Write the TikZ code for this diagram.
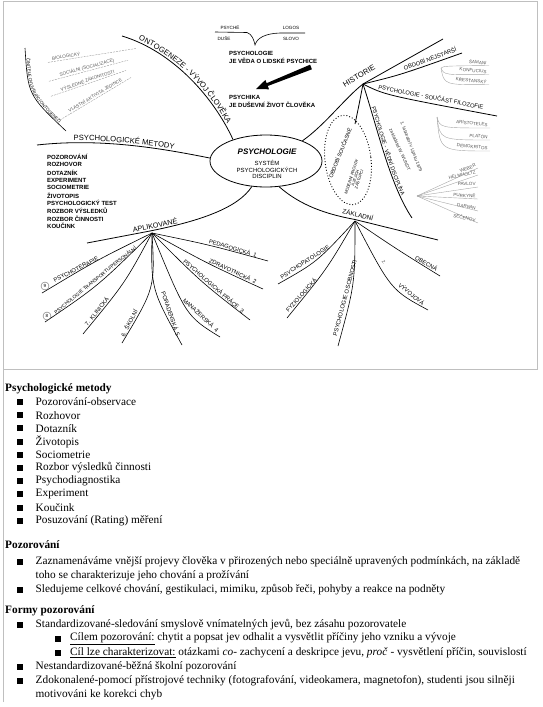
\documentclass[tikz,border=0pt]{standalone}
\usepackage{fontspec}
\setmainfont{Liberation Serif}
\newfontfamily\mmf{Liberation Sans}
\usetikzlibrary{shapes.geometric,decorations.text}
\newcommand\fsz[1]{\fontsize{#1}{#1}\selectfont}
\tikzset{
 framel/.style={draw=black!25, line width=0.8pt},
 br/.style={draw=black, line width=0.8pt},
 sbr/.style={draw=black, line width=0.6pt},
 gl/.style={draw=black!35, line width=0.4pt},
 gld/.style={draw=black!40, line width=0.4pt, dash pattern=on 2pt off 1pt},
 mlab/.style={inner sep=0.3pt, font=\mmf\fsz{5.8}},
 mtiny/.style={inner sep=0.2pt, font=\mmf\fsz{4.6}, text=black!65},
 mbig/.style={inner sep=0.3pt, font=\mmf\fsz{7.6}},
 mlst/.style={anchor=west, inner sep=0, font=\mmf\bfseries\fsz{6}},
 body/.style={anchor=west, inner sep=0, font=\fsz{11.3}},
 headl/.style={anchor=west, inner sep=0, font=\bfseries\fsz{11.3}},
 sq/.style={fill=black, inner sep=0, minimum size=6pt},
 circl/.style={circle, draw=black!60, inner sep=0.2pt, minimum size=8pt, font=\mmf\fsz{4.5}},
}
\newcommand\bitem[4]{\node[sq] (#1s) at (#2,#3) {}; \node[body] (#1) at (#2+15.5,#3) {#4};}
\newcommand\bitemb[4]{\node[sq] (#1s) at (#2,#3) {}; \node[body] (#1) at (#2+12,#3) {#4};}
\begin{document}
\begin{tikzpicture}[x=1pt,y=-1pt]
\useasboundingbox (0,0) rectangle (543,707);
% frame
\draw[framel] (3,702) -- (3,1) -- (537,1) -- (537,369) -- (3,369);

% ---------- top: psyche / logos
\node[mtiny, text=black] (psyche) at (230,28) {PSYCHÉ};
\node[mtiny, text=black] (duse) at (224,39) {DUŠE};
\node[mtiny, text=black] (logos) at (291,28) {LOGOS};
\node[mtiny, text=black] (slovo) at (291,39) {SLOVO};
\draw[sbr] (215,32) -- (247,32.5) .. controls (252,34) and (254,40) .. (255,45)
  .. controls (257,38) and (265,33.5) .. (280,33) -- (305,33);
\node[mlst] (pl1) at (229,53) {PSYCHOLOGIE};
\node[mlst] (pl2) at (229,61) {JE VĚDA O LIDSKÉ PSYCHICE};
\node[mlst] (pk1) at (229,97) {PSYCHIKA};
\node[mlst] (pk2) at (229,104.5) {JE DUŠEVNÍ ŽIVOT ČLOVĚKA};
\fill (310.1,64.7) -- (266.6,83.2) -- (265.4,79.9) -- (256,89) -- (269.0,89.3) -- (267.8,86.0) -- (311.9,69.3) -- cycle;

% ---------- core
\node[ellipse, draw, line width=0.8pt, minimum width=112pt, minimum height=52pt] (core) at (266,161) {};
\node[inner sep=0, font=\mmf\bfseries\itshape\fsz{8}] (c1) at (267,152) {PSYCHOLOGIE};
\node[inner sep=0, font=\mmf\fsz{6}] (c2) at (267,163) {SYSTÉM};
\node[inner sep=0, font=\mmf\fsz{6}] (c3) at (267,169.5) {PSYCHOLOGICKÝCH};
\node[inner sep=0, font=\mmf\fsz{6}] (c4) at (267,176) {DISCIPLIN};

% ---------- ontogeneze
\coordinate (oA) at (122,36);
\draw[br, postaction={decorate, decoration={text along path, text={|\mmf\fsz{7.6}|ONTOGENEZE - VÝVOJ ČLOVĚKA}, text align=center, raise=2pt}}]
  (oA) .. controls (175,52) and (215,100) .. (core.147);
\draw[sbr, postaction={decorate, decoration={text along path, text={|\mmf\fsz{4.3}|ČINITELE OVLIVŇUJÍCÍ ONTOGENEZI}, text align=center, raise=1pt}}]
  (25,48) .. controls (28,95) .. (66,131);
\draw[gld] (48,62.4) -- (136,48.5);
\node[mtiny, rotate=9] (o1) at (66,56) {BIOLOGICKÝ};
\draw[gld] (49,81.3) -- (128,60.2);
\node[mtiny, rotate=15] (o2) at (87,67.5) {SOCIÁLNÍ (SOCIALIZACE)};
\draw[gld] (51,96.3) -- (126,70.5);
\node[mtiny, rotate=19] (o3) at (87.5,80) {VÝSLEDNÉ ZÁKONITOSTI};
\draw[gld] (60,120) -- (131,77.5);
\node[mtiny, rotate=31] (o4) at (95,95) {VLASTNÍ AKTIVITA JEDINCE};

% ---------- metody
\draw[br, postaction={decorate, decoration={text along path, text={|\mmf\fsz{7.6}|PSYCHOLOGICKÉ METODY}, text align=center, raise=2pt}}]
  (37,145) .. controls (100,138) and (160,148) .. (core.177);
\node[mlst] (m1) at (47,157) {POZOROVÁNÍ};
\node[mlst] (m2) at (47,164.7) {ROZHOVOR};
\node[mlst] (m3) at (47,172.4) {DOTAZNÍK};
\node[mlst] (m4) at (47,180.1) {EXPERIMENT};
\node[mlst] (m5) at (47,187.8) {SOCIOMETRIE};
\node[mlst] (m6) at (47,195.5) {ŽIVOTOPIS};
\node[mlst] (m7) at (47,203.2) {PSYCHOLOGICKÝ TEST};
\node[mlst] (m8) at (47,210.9) {ROZBOR VÝSLEDKŮ};
\node[mlst] (m9) at (47,218.6) {ROZBOR ČINNOSTI};
\node[mlst] (m10) at (47,226.3) {KOUČINK};

% ---------- aplikované
\coordinate (Ah) at (152,233);
\draw[br] (87,243) -- (150,231) .. controls (200,221) and (238,208) .. (core.241);
\node[mbig, font=\mmf\fsz{7.2}, rotate=11] (apl) at (155,225) {APLIKOVANÉ};
\coordinate (a1) at (268,261);
\coordinate (a2) at (263,289);
\coordinate (a3) at (250,320);
\coordinate (a4) at (220,337);
\coordinate (a5) at (182,345);
\coordinate (a6) at (122,343);
\coordinate (a7) at (83,334);
\coordinate (a8) at (45,322);
\coordinate (a9) at (42,293);
\draw[sbr] (Ah) .. controls (210,245) .. (a1);
\draw[sbr] (Ah) .. controls (207.5,263.6) .. (a2);
\draw[sbr] (Ah) .. controls (201,282) .. (a3);
\draw[sbr] (Ah) .. controls (186,316) .. (a4);
\draw[sbr] (Ah) .. controls (151,289) .. (a5);
\draw[sbr] (Ah) .. controls (155,288) .. (a6);
\draw[sbr] (Ah) .. controls (125,283) .. (a7);
\draw[sbr] (Ah) .. controls (98,286) .. (a8);
\draw[sbr] (Ah) .. controls (97,260) .. (a9);
\node[mlab, rotate=-16] (t1) at (233,248) {PEDAGOGICKÁ\ \ 1};
\node[mlab, rotate=-25] (t2) at (233,271) {ZDRAVOTNICKÁ\ \ 2};
\node[mlab, rotate=-41] (t3) at (214,286) {PSYCHOLOGICKÁ PRÁCE\ \ 3};
\node[mlab, rotate=-43] (t4) at (201,315) {MANAŽERSKÁ\ \ 4};
\node[mlab, rotate=-71] (t5) at (171,314) {PORADENSKÁ\ \ 5};
\node[mlab, rotate=63] (t6) at (129,323) {6.\ \ ŠKOLNÍ};
\node[mlab, rotate=51] (t7) at (96.5,311.5) {7.\ \ KLINICKÁ};
\node[mlab, font=\mmf\fsz{4.9}, rotate=39] (t8) at (95,280) {PSYCHOLOGIE TRANSPORTU/PERSONÁLNÍ};
\node[mlab, rotate=27] (t9) at (76,269.5) {PSYCHOTERAPIE};
\node[circl] (n9) at (45,286) {9};
\node[circl] (n8) at (47,316) {8};

% ---------- základní
\coordinate (Zh) at (355,221);
\draw[br] (core.297) .. controls (300,205) and (325,214) .. (355,219.5) -- (438,240);
\node[mlab, font=\mmf\fsz{6.4}, rotate=-12] (zakl) at (358,214.5) {ZÁKLADNÍ};
\coordinate (z1) at (278,284);
\coordinate (z2) at (287,318);
\coordinate (z3) at (338,346);
\coordinate (z4) at (428,310);
\coordinate (z5) at (440,276);
\draw[sbr] (Zh) .. controls (317,262) .. (z1);
\draw[sbr] (Zh) .. controls (327,269) .. (z2);
\draw[sbr] (Zh) .. controls (355,284) .. (z3);
\draw[sbr] (Zh) .. controls (391,290) .. (z4);
\draw[sbr] (Zh) .. controls (398,250) .. (z5);
\node[mlab, rotate=33] (zt1) at (305,262) {PSYCHOPATOLOGIE};
\node[mlab, rotate=48] (zt2) at (301,295) {FYZIOLOGICKÁ};
\node[mlab, rotate=75] (zt3) at (345,298) {PSYCHOLOGIE OSOBNOSTI};
\node[mlab, rotate=-39] (zt4) at (411.5,294) {VÝVOJOVÁ};
\node[mlab, rotate=-29] (zt5) at (426.5,263.5) {OBECNÁ};
\node[mtiny, rotate=-60] (zt6) at (384,262) {2.};

% ---------- historie
\coordinate (Hh) at (363,84);
\draw[br] (core.29) .. controls (325,125) and (345,98) .. (Hh) -- (443,39);
\node[mbig, rotate=30] (hist) at (359,76) {HISTORIE};
% nejstarší
\draw[br] (Hh) .. controls (400,75) .. (462,53);
\node[mlab, rotate=20] (nej) at (430,58.5) {OBDOBÍ NEJSTARŠÍ};
\foreach \yy/\nm/\tx in {63/h1/ŠAMANI, 72/h2/KONFUCIUS, 82/h3/KŘESŤANSKÝ}{
  \draw[gl] (441,68) .. controls (444,\yy+3) .. (489,\yy+2.5);
  \node[mtiny, anchor=east, rotate=-6] (\nm) at (487,\yy) {\tx};
}
% filozofie
\draw[br] (Hh) .. controls (385,95) .. (497,116);
\node[mlab, rotate=-11] (filo) at (431,97) {PSYCHOLOGIE - SOUČÁST FILOZOFIE};
\foreach \yy/\nm/\tx in {125/f1/ARISTOTELES, 137/f2/PLATÓN, 148/f3/DÉMOKRITOS}{
  \draw[gl] (437,117) .. controls (440,\yy+3) .. (490,\yy+3);
  \node[mtiny, anchor=east, rotate=-6] (\nm) at (488,\yy) {\tx};
}
% současné
\draw[br] (Hh) .. controls (359,105) .. (355,124);
\draw[dotted, line width=0.9pt, rotate around={7:(348,160)}] (348,160) ellipse [x radius=23, y radius=45];
\node[mlab, font=\mmf\fsz{5.4}, rotate=68] (souc) at (340,153) {OBDOBÍ SOUČASNÉ};
\node[mtiny, text=black, font=\mmf\fsz{4}, rotate=72, align=center] (modern) at (355,178) {MODERNÍ PROUDY\\A JEJICH\\ZÁSTUPCI};
% vědní disciplína
\draw[br, postaction={decorate, decoration={text along path, text={|\mmf\fsz{5.5}|PSYCHOLOGIE - VĚDNÍ DISCIPLÍNA}, text align=center, raise=1.5pt}}]
  (Hh) .. controls (378,130) and (390,185) .. (412,218);
\node[mtiny, text=black!80, rotate=-69] (lab) at (411,147) {1. laboratoř v Lipsku 1879};
\node[mtiny, text=black!80, rotate=-66] (wundt) at (400,150) {zakladatel W. WUNDT};
\foreach \yy/\rr/\nm/\tx in {165/22/v1/WEBER, 172/12/v2/HELMHOLTZ, 184/0/v3/PAVLOV, 196/-3/v4/PURKYNĚ, 208/-8/v5/DARWIN, 220/-12/v6/SEČENOV}{
  \draw[gl] (417,196) -- (478,\yy+3);
  \node[mtiny, anchor=east, rotate=\rr] (\nm) at (476,\yy) {\tx};
}

% ---------- bottom text
\node[headl] (h1) at (5,389) {Psychologické metody};
\bitem{b1}{20}{402}{Pozorování-observace}
\bitem{b2}{20}{415.2}{Rozhovor}
\bitem{b3}{20}{428.4}{Dotazník}
\bitem{b4}{20}{441.6}{Životopis}
\bitem{b5}{20}{454.8}{Sociometrie}
\bitem{b6}{20}{468}{Rozbor výsledků činnosti}
\bitem{b7}{20}{481.2}{Psychodiagnostika}
\bitem{b8}{20}{494.4}{Experiment}
\bitem{b9}{20}{507.6}{Koučink}
\bitem{b10}{20}{520.8}{Posuzování (Rating) měření}

\node[headl] (h2) at (5,545) {Pozorování};
\bitem{p1}{20}{562}{Zaznamenáváme vnější projevy člověka v přirozených nebo speciálně upravených podmínkách, na základě}
\node[body] (p1b) at (35.5,575.5) {toho se charakterizuje jeho chování a prožívání};
\bitem{p2}{20}{590}{Sledujeme celkové chování, gestikulaci, mimiku, způsob řeči, pohyby a reakce na podněty}

\node[headl] (h3) at (5,611) {Formy pozorování};
\bitem{f1}{20}{625}{Standardizované-sledování smyslově vnímatelných jevů, bez zásahu pozorovatele}
\bitemb{f2}{58}{639}{\underline{Cílem pozorování:} chytit a popsat jev odhalit a vysvětlit příčiny jeho vzniku a vývoje}
\bitemb{f3}{58}{653}{\underline{Cíl lze charakterizovat:} otázkami \textit{co}- zachycení a deskripce jevu, \textit{proč} - vysvětlení příčin, souvislostí}
\bitem{f4}{20}{667}{Nestandardizované-běžná školní pozorování}
\bitem{f5}{20}{681}{Zdokonalené-pomocí přístrojové techniky (fotografování, videokamera, magnetofon), studenti jsou silněji}
\node[body] (f5b) at (35.5,694.5) {motivováni ke korekci chyb};
\end{tikzpicture}
\end{document}
